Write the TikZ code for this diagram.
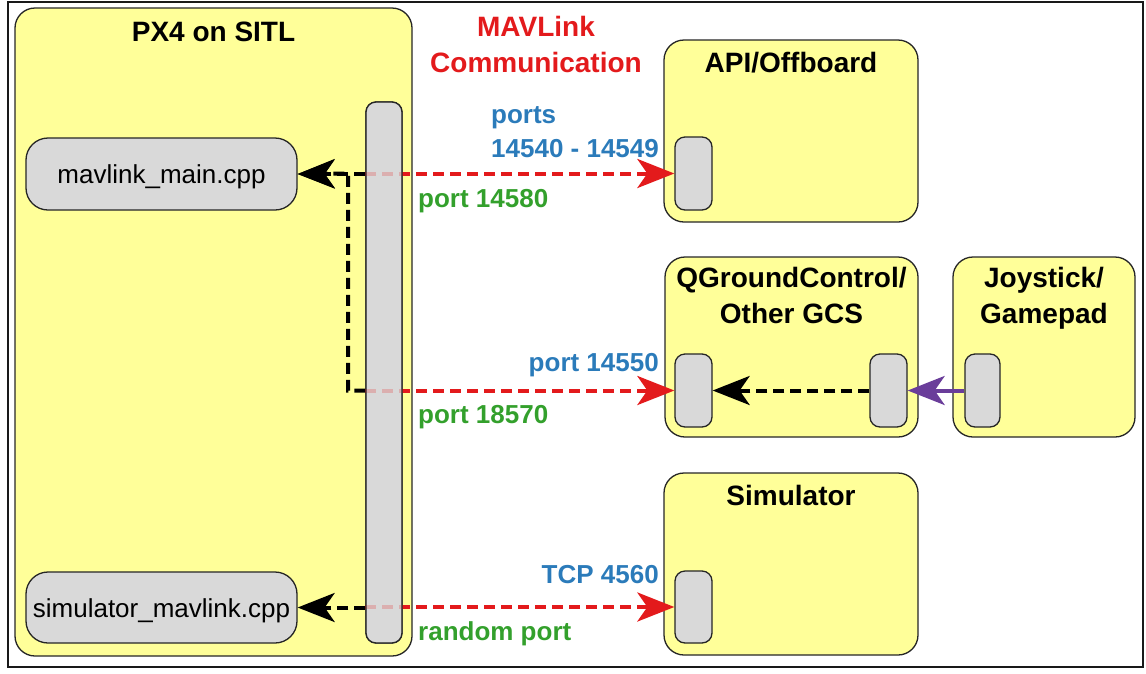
\documentclass[tikz,border=0pt]{standalone}
\usepackage{fontspec}
\setmainfont{Liberation Sans}
\usetikzlibrary{arrows.meta}
\definecolor{boxyellow}{HTML}{FFFF99}
\definecolor{portgray}{HTML}{D9D9D9}
\definecolor{mred}{HTML}{E31A1C}
\definecolor{mblue}{HTML}{2B7BBA}
\definecolor{mgreen}{HTML}{33A02C}
\definecolor{mpurple}{HTML}{6A3D9A}
\begin{document}
\begin{tikzpicture}[x=1pt,y=-1pt,
  container/.style={draw=black!85, line width=1.3pt, fill=boxyellow, rounded corners=20pt, inner sep=0pt},
  portbox/.style={draw=black!85, line width=1.3pt, fill=portgray, rounded corners=10pt, inner sep=0pt},
  filebox/.style={draw=black!85, line width=1.3pt, fill=portgray, rounded corners=22pt, inner sep=0pt,
    font=\fontsize{26}{30}\selectfont, text height=19pt, text depth=0pt},
  title/.style={font=\bfseries\fontsize{28}{36}\selectfont, align=center, inner sep=0pt, text depth=0pt},
  lbl/.style={font=\bfseries\fontsize{26}{34}\selectfont, inner sep=0pt},
  tip/.style={-{Stealth[length=37pt,width=29pt,inset=10pt]}},
  link/.style={line width=4pt, dash pattern=on 11pt off 6pt, tip},
  reddash/.style={link, draw=mred},
  blackdash/.style={link, draw=black},
  joylink/.style={line width=4pt, draw=mpurple, tip},
]
\useasboundingbox (0,0) rectangle (1146,673);
\draw[line width=2pt, draw=black!90] (8,2) rectangle (1143,667);

% containers
\node[container, minimum width=397pt, minimum height=648pt] (px4) at (213.5,332) {};
\node[container, minimum width=254pt, minimum height=182pt] (api) at (791,131) {};
\node[container, minimum width=253pt, minimum height=180pt] (qgc) at (791.5,347) {};
\node[container, minimum width=182pt, minimum height=180pt] (joy) at (1044,347) {};
\node[container, minimum width=254pt, minimum height=182pt] (sim) at (791,564) {};

% files
\node[filebox, minimum width=271pt, minimum height=72pt] (mavmain) at (161.5,174) {mavlink\_main.cpp};
\node[filebox, minimum width=271pt, minimum height=71pt] (simmav) at (161.5,607.5) {simulator\_mavlink.cpp};

% ports
\node[portbox, minimum width=36pt, minimum height=541pt] (bar) at (384,372.5) {};
\node[portbox, minimum width=37pt, minimum height=73pt] (apiport) at (693.5,173.5) {};
\node[portbox, minimum width=37pt, minimum height=73pt] (qgcL) at (693.5,390.5) {};
\node[portbox, minimum width=37pt, minimum height=73pt] (qgcR) at (888.5,390.5) {};
\node[portbox, minimum width=35pt, minimum height=73pt] (joyport) at (982.5,390.5) {};
\node[portbox, minimum width=37pt, minimum height=72pt] (simport) at (693.5,607) {};

% connectors
\coordinate (junc) at (348,173.5);
\draw[blackdash] (bar.west |- mavmain.east) -- (mavmain.east);
\draw[blackdash] (bar.west |- qgcL.west) -| (junc) -- (mavmain.east);
\draw[blackdash] (bar.west |- simmav.east) -- (simmav.east);
\draw[reddash] (bar.west |- apiport.west) -- (apiport.west);
\draw[reddash] (bar.west |- qgcL.west) -- (qgcL.west);
\draw[reddash] (bar.west |- simport.west) -- (simport.west);
\draw[blackdash] (qgcR.west) -- (qgcL.east);
\draw[joylink] (joyport.west) -- (qgcR.east);

% bar front (semi-transparent over the red links)
\node[portbox, fill opacity=0.78, minimum width=36pt, minimum height=541pt] (barfront) at (bar) {};

% titles
\node[title, anchor=base] (px4t) at (213.5,41) {PX4 on SITL};
\node[title, anchor=south, text=mred] (mavt) at (536,73) {MAVLink\\Communication};
\node[title, anchor=base] (apit) at (791,72) {API/Offboard};
\node[title, anchor=south] (qgct) at (791.5,324) {QGroundControl/\\Other GCS};
\node[title, anchor=south] (joyt) at (1044,324) {Joystick/\\Gamepad};
\node[title, anchor=base] (simt) at (791,505) {Simulator};

% labels
\node[lbl, text=mblue, anchor=base west] (l1) at (491,123) {ports};
\node[lbl, text=mblue, anchor=base west] (l2) at (491,157) {14540 - 14549};
\node[lbl, text=mgreen, anchor=base west] (l3) at (418,207) {port 14580};
\node[lbl, text=mblue, anchor=base east] (l4) at (659,371) {port 14550};
\node[lbl, text=mgreen, anchor=base west] (l5) at (418,423) {port 18570};
\node[lbl, text=mblue, anchor=base east] (l6) at (659,583) {TCP 4560};
\node[lbl, text=mgreen, anchor=base west] (l7) at (418,640) {random port};
\end{tikzpicture}
\end{document}
